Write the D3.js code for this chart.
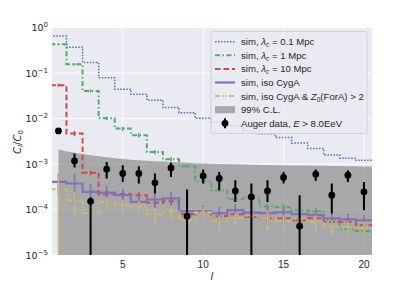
<!DOCTYPE html>
<html><head><meta charset="utf-8">
<script src="https://cdn.jsdelivr.net/npm/d3@7"></script>
<style>
body{margin:0;background:#fff}
text{font-family:"Liberation Sans",Arial,sans-serif;fill:#262626}
.m{font-family:"DejaVu Sans",sans-serif}
</style>
</head><body><svg id="c" width="413" height="284"></svg>
<script>
// ---------- data ----------
const ells = [1,2,3,4,5,6,7,8,9,10,11,12,13,14,15,16,17,18,19,20];
const xTicks = [5,10,15,20];
const yTicks = [1e-5,1e-4,1e-3,1e-2,1e-1,1];
const yTickExp = ["\u22125","\u22124","\u22123","\u22122","\u22121","0"];

const blueVals = [0.65,0.37,0.17,0.079,0.044,0.034,0.0252,0.0174,0.0134,0.0101,0.0083,0.0068,0.0053,0.0046,0.0038,0.0029,0.0022,0.00158,0.00134,0.00121];
const greenVals = [0.428,0.155,0.0403,0.0101,0.0060,0.0043,0.00184,0.00127,0.00089,0.00042,0.000266,0.000169,0.000187,0.000118,0.000112,0.0000966,0.0000919,0.0000583,0.000037,0.0000334];
const greenErr = [0.02,0.008,0.003,0.001,0.0006,0.0005,0.0002,0.00015,0.0001,0.00006,0.00003,0.00002,0.00002,0.00002,0.00002,0.000015,0.000015,0.00001,0.00001,0.00001];
const redVals = [0.0538,0.00468,0.000644,0.000217,0.00022,0.000206,0.00014,0.000152,0.000079,0.000092,0.000071,0.000079,0.000068,0.000064,0.000064,0.000058,0.000064,0.000053,0.000053,0.000045];
const redErr = [0.004,0.0006,0.00008,0.00004,0.00004,0.00004,0.00003,0.00003,0.00002,0.00002,0.00002,0.00002,0.00002,0.00002,0.00002,0.000015,0.000015,0.000012,0.000012,0.00001];
const purpleVals = [4.04e-4,3.73e-4,2.44e-4,2.36e-4,2.06e-4,1.47e-4,1.66e-4,1.75e-4,9.2e-5,9.2e-5,8.3e-5,9.7e-5,8.5e-5,8.3e-5,8.7e-5,7.9e-5,7.5e-5,6.35e-5,6.04e-5,5.8e-5];
const purpleErr = [2.0e-4,2.5e-4,1.2e-4,1.0e-4,0.8e-4,0.6e-4,0.6e-4,0.7e-4,0.3e-4,0.3e-4,0.3e-4,0.35e-4,0.3e-4,0.3e-4,0.3e-4,0.25e-4,0.25e-4,0.2e-4,0.2e-4,0.2e-4];
const yellowVals = [2.78e-4,1.58e-4,8.3e-5,1.45e-4,1.24e-4,1.18e-4,7.9e-5,9.2e-5,5.8e-5,8.7e-5,5.5e-5,6.4e-5,7.1e-5,6.4e-5,5.5e-5,6.1e-5,5.5e-5,4.3e-5,4.1e-5,3.9e-5];
const yellowErr = [2.9e-4,0.9e-4,0.3e-4,0.4e-4,0.4e-4,0.35e-4,0.3e-4,0.3e-4,0.2e-4,0.25e-4,0.2e-4,0.2e-4,0.25e-4,0.3e-4,0.2e-4,0.2e-4,0.2e-4,0.15e-4,0.15e-4,0.15e-4];

const bandEll = [1,2,3,4,5,6,7,8,9,10,11,12,13,14,15,16,17,18,19,20,21];
const bandHi = [2.08e-3,1.77e-3,1.56e-3,1.41e-3,1.29e-3,1.21e-3,1.15e-3,1.11e-3,1.07e-3,1.03e-3,1.005e-3,9.84e-4,9.64e-4,9.5e-4,9.35e-4,9.22e-4,9.12e-4,9.03e-4,8.94e-4,8.85e-4,8.78e-4];
const bandFloor = 1e-7;

const augerVals = [5.33e-3,1.17e-3,1.51e-4,7.69e-4,6.18e-4,6.18e-4,3.85e-4,8.2e-4,7.13e-5,5.47e-4,4.8e-4,2.56e-4,1.89e-4,2.56e-4,5.05e-4,4.3e-5,5.97e-4,2.06e-4,5.67e-4,2.44e-4];
const augerHi = [5.4e-3,1.70e-3,1.87e-4,1.11e-3,9.4e-4,8.94e-4,6.18e-4,1.06e-3,2.75e-4,7.57e-4,6.7e-4,4.4e-4,3.73e-4,4.4e-4,6.7e-4,2.06e-4,7.57e-4,3.73e-4,7.3e-4,4.04e-4];
const augerLo = [5.26e-3,8.37e-4,1e-7,4.8e-4,4.04e-4,3.73e-4,2.25e-4,5.2e-4,1e-7,3.73e-4,2.66e-4,1.47e-4,1e-7,1.47e-4,3.73e-4,1e-7,4.25e-4,8.2e-5,4.04e-4,9.66e-5];

// ---------- layout ----------
const P = {l:52, r:372, t:27.5, b:255};
const svg = d3.select("#c");
const x = d3.scaleLinear().domain([0.6,20.5]).range([P.l,P.r]);
const y = d3.scaleLog().domain([1e-5,1]).range([P.b,P.t]);

svg.append("defs").append("clipPath").attr("id","clip")
  .append("rect").attr("x",P.l).attr("y",P.t).attr("width",P.r-P.l).attr("height",P.b-P.t);

svg.append("rect").attr("x",P.l).attr("y",P.t).attr("width",P.r-P.l).attr("height",P.b-P.t).attr("fill","#EAEAF2");

// grid
const g = svg.append("g");
g.selectAll(".gx").data(xTicks).join("line")
  .attr("x1",d=>x(d)).attr("x2",d=>x(d)).attr("y1",P.t).attr("y2",P.b)
  .attr("stroke","#fff").attr("stroke-width",1);
g.selectAll(".gy").data(yTicks).join("line")
  .attr("x1",P.l).attr("x2",P.r).attr("y1",d=>y(d)).attr("y2",d=>y(d))
  .attr("stroke","#fff").attr("stroke-width",1);

const plot = svg.append("g").attr("clip-path","url(#clip)");

// band
const area = d3.area().x((d,i)=>x(bandEll[i])).y0(()=>y(bandFloor)).y1(d=>y(d)).curve(d3.curveMonotoneX);
plot.append("path").attr("d",area(bandHi)).attr("fill","#808080").attr("fill-opacity",0.62);

// step series
function stepPts(vals){
  const pts = ells.map((l,i)=>[l-0.5, vals[i]]);
  pts.push([ells[ells.length-1]+0.5, vals[vals.length-1]]);
  return pts;
}
const stepLine = d3.line().x(d=>x(d[0])).y(d=>y(d[1])).curve(d3.curveStepAfter);

const series = [
  {vals:blueVals, err:null, color:"#4C72B0", w:1.5, dash:"1.5,1.5"},
  {vals:greenVals, err:greenErr, color:"#55A868", w:2, dash:"5,2.5,1.5,2.5"},
  {vals:redVals, err:redErr, color:"#C44E52", w:2, dash:"5.5,3"},
  {vals:purpleVals, err:purpleErr, color:"#8172B2", w:2.2, dash:null},
  {vals:yellowVals, err:yellowErr, color:"#CCB974", w:2, dash:"5,2,1.5,2,1.5,2"}
];
series.forEach(s=>{
  if(s.err){
    plot.append("g").selectAll("line").data(ells).join("line")
      .attr("x1",d=>x(d)).attr("x2",d=>x(d))
      .attr("y1",(d,i)=>y(s.vals[i]+s.err[i]))
      .attr("y2",(d,i)=>y(Math.max(s.vals[i]-s.err[i],1e-7)))
      .attr("stroke",s.color).attr("stroke-width",1.6);
  }
  const p = plot.append("path").attr("d",stepLine(stepPts(s.vals)))
    .attr("fill","none").attr("stroke",s.color).attr("stroke-width",s.w);
  if(s.dash) p.attr("stroke-dasharray",s.dash);
});

// Auger data
const ag = plot.append("g");
ag.selectAll("line").data(ells).join("line")
  .attr("x1",d=>x(d)).attr("x2",d=>x(d))
  .attr("y1",(d,i)=>y(augerHi[i])).attr("y2",(d,i)=>y(augerLo[i]))
  .attr("stroke","#000").attr("stroke-width",2);
ag.selectAll("circle").data(ells).join("circle")
  .attr("cx",d=>x(d)).attr("cy",(d,i)=>y(augerVals[i])).attr("r",3.4).attr("fill","#000");

// axes labels
svg.append("g").selectAll("text").data(xTicks).join("text")
  .attr("x",d=>x(d)).attr("y",P.b+13).attr("text-anchor","middle")
  .attr("font-size",10).text(d=>d);
const yt = svg.append("g").selectAll("text").data(yTicks).join("text")
  .attr("class","m").attr("x",P.l-4).attr("y",d=>y(d)+3.5).attr("text-anchor","end").attr("font-size",9.5);
yt.append("tspan").text("10");
yt.append("tspan").attr("dy",-4).attr("font-size",7).text((d,i)=>yTickExp[i]);

svg.append("text").attr("class","m").attr("x",(P.l+P.r)/2).attr("y",280)
  .attr("text-anchor","middle").attr("font-size",10).attr("font-style","italic").text("l");

const yl = svg.append("text").attr("class","m").attr("transform","translate(21,142) rotate(-90)")
  .attr("text-anchor","middle").attr("font-size",10);
yl.append("tspan").attr("font-style","italic").text("C");
yl.append("tspan").attr("font-style","italic").attr("font-size",7).attr("dy",2).text("l");
yl.append("tspan").attr("dy",-2).text("/");
yl.append("tspan").attr("font-style","italic").text("C");
yl.append("tspan").attr("font-size",7).attr("dy",2).text("0");

// legend
const L = {x:211, y:31.5, w:156, h:102};
const lg = svg.append("g");
lg.append("rect").attr("x",L.x).attr("y",L.y).attr("width",L.w).attr("height",L.h).attr("rx",2)
  .attr("fill","#EAEAF2").attr("fill-opacity",0.8).attr("stroke","#cccccc").attr("stroke-opacity",0.8).attr("stroke-width",1);
const rowY = i => 41.7 + i*13.6;
const hx0 = 215, hx1 = 235, tx = 241;
series.forEach((s,i)=>{
  const ln = lg.append("line").attr("x1",hx0).attr("x2",hx1).attr("y1",rowY(i)).attr("y2",rowY(i))
    .attr("stroke",s.color).attr("stroke-width",s.w);
  if(s.dash) ln.attr("stroke-dasharray",s.dash);
});
lg.append("rect").attr("x",hx0).attr("y",rowY(5)-3.5).attr("width",hx1-hx0).attr("height",7)
  .attr("fill","#808080").attr("fill-opacity",0.62);
lg.append("line").attr("x1",(hx0+hx1)/2).attr("x2",(hx0+hx1)/2).attr("y1",rowY(6)-5).attr("y2",rowY(6)+5)
  .attr("stroke","#000").attr("stroke-width",2);
lg.append("circle").attr("cx",(hx0+hx1)/2).attr("cy",rowY(6)).attr("r",3.4).attr("fill","#000");

function lt(i){ return lg.append("text").attr("x",tx).attr("y",rowY(i)+3.5).attr("font-size",9.6); }
function lam(t, val){
  t.append("tspan").text("sim, ");
  t.append("tspan").attr("font-style","italic").text("\u03bb");
  t.append("tspan").attr("font-style","italic").attr("font-size",6.5).attr("dy",2).text("c");
  t.append("tspan").attr("dy",-2).text(" = " + val);
  t.append("tspan").text(" Mpc");
}
lam(lt(0),"0.1");
lam(lt(1),"1");
lam(lt(2),"10");
lt(3).text("sim, iso CygA");
{
  const t = lt(4);
  t.append("tspan").text("sim, iso CygA & ");
  t.append("tspan").attr("font-style","italic").text("Z");
  t.append("tspan").attr("font-size",6.5).attr("dy",2).text("0");
  t.append("tspan").attr("dy",-2).text("(ForA) > 2");
}
lt(5).text("99% C.L.");
{
  const t = lt(6);
  t.append("tspan").text("Auger data, ");
  t.append("tspan").attr("font-style","italic").text("E");
  t.append("tspan").text(" > 8.0EeV");
}
</script></body></html>
